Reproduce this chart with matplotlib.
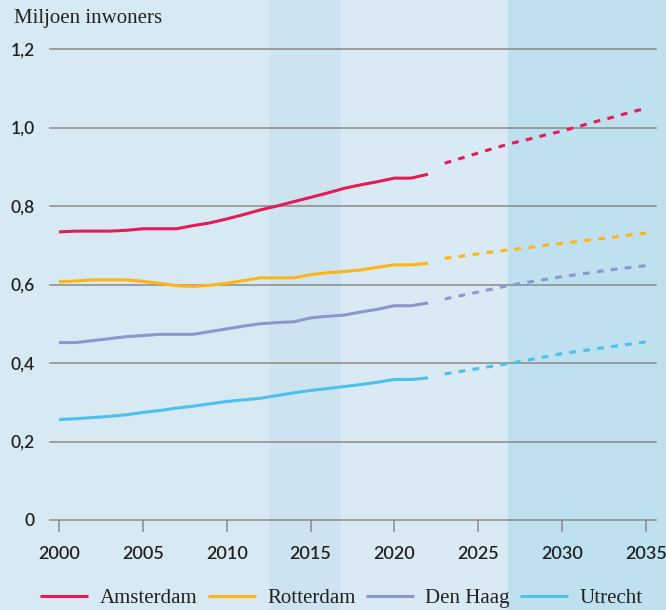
import matplotlib
matplotlib.use('Agg')
import matplotlib.pyplot as plt
from matplotlib.patches import Rectangle
from matplotlib.ticker import FuncFormatter

# Observed population (millions), 2000-2022
years = list(range(2000, 2023))
amsterdam = [0.734, 0.736, 0.736, 0.736, 0.738, 0.742, 0.742, 0.742, 0.750, 0.757,
             0.767, 0.778, 0.790, 0.800, 0.811, 0.822, 0.833, 0.845, 0.854, 0.862,
             0.871, 0.871, 0.881]
rotterdam = [0.607, 0.609, 0.612, 0.612, 0.612, 0.608, 0.603, 0.597, 0.595, 0.598,
             0.603, 0.610, 0.617, 0.617, 0.617, 0.625, 0.630, 0.633, 0.637, 0.644,
             0.650, 0.650, 0.654]
den_haag = [0.452, 0.452, 0.457, 0.462, 0.467, 0.470, 0.473, 0.473, 0.473, 0.480,
            0.487, 0.494, 0.500, 0.503, 0.505, 0.515, 0.519, 0.522, 0.530, 0.537,
            0.546, 0.546, 0.553]
utrecht = [0.256, 0.258, 0.261, 0.264, 0.268, 0.274, 0.279, 0.285, 0.290, 0.296,
           0.302, 0.306, 0.310, 0.317, 0.324, 0.330, 0.335, 0.340, 0.345, 0.351,
           0.358, 0.358, 0.362]

# Projection, 2023-2035
proj_years = list(range(2023, 2036))
amsterdam_proj = [0.909, 0.922, 0.935, 0.948, 0.960, 0.970, 0.981, 0.991, 1.003,
                  1.015, 1.026, 1.038, 1.049]
rotterdam_proj = [0.667, 0.672, 0.678, 0.684, 0.689, 0.694, 0.700, 0.705, 0.710,
                  0.715, 0.720, 0.726, 0.731]
den_haag_proj = [0.563, 0.572, 0.581, 0.590, 0.599, 0.606, 0.613, 0.620, 0.626,
                 0.632, 0.638, 0.643, 0.648]
utrecht_proj = [0.372, 0.379, 0.386, 0.393, 0.400, 0.408, 0.416, 0.424, 0.430,
                0.436, 0.442, 0.448, 0.454]

names = ['Amsterdam', 'Rotterdam', 'Den Haag', 'Utrecht']
colors = ['#e41b57', '#fdb515', '#8c97cf', '#4cc1ee']

yticks = [0, 0.2, 0.4, 0.6, 0.8, 1.0, 1.2]
xticks = [2000, 2005, 2010, 2015, 2020, 2025, 2030, 2035]

SERIF = 'Liberation Serif'
SANS = 'Lato'
TXT = '#222222'

fig = plt.figure(figsize=(6.66, 6.10), dpi=100)
fig.patch.set_facecolor('#d7e9f3')

# background bands (figure fractions)
bands = [(270 / 666, 71 / 666, '#cde4f0'),
         (341 / 666, 167 / 666, '#daeaf4'),
         (508 / 666, 158 / 666, '#bfe0ef')]
for x0, w, c in bands:
    fig.patches.append(Rectangle((x0, 0), w, 1, transform=fig.transFigure,
                                 color=c, zorder=-10))

ax = fig.add_axes([50 / 666, 90 / 610, 606 / 666, 471 / 610])
ax.set_facecolor('none')
ax.set_zorder(5)

obs = [amsterdam, rotterdam, den_haag, utrecht]
proj = [amsterdam_proj, rotterdam_proj, den_haag_proj, utrecht_proj]
for name, c, o, p in zip(names, colors, obs, proj):
    ax.plot(years, o, color=c, lw=2.2, label=name, solid_capstyle='butt', zorder=3)
    ax.plot(proj_years, p, color=c, lw=2.2, dashes=(2.2, 2.4), zorder=3)

ax.set_xlim(2000 - 9 / 16.77, 2035 + 10 / 16.77)
ax.set_ylim(0, 1.2)
ax.set_yticks(yticks)
ax.set_xticks(xticks)

def fmt(v, pos):
    if v == 0:
        return '0'
    return ('%.1f' % v).replace('.', ',')

ax.yaxis.set_major_formatter(FuncFormatter(fmt))
for y in yticks[1:]:
    ax.axhline(y, color='#8a8a8a', lw=1.1, zorder=1, clip_on=False)

for s in ['top', 'right', 'left']:
    ax.spines[s].set_visible(False)
ax.spines['bottom'].set_color('#8a8a8a')
ax.spines['bottom'].set_linewidth(1.1)

ax.tick_params(axis='y', length=0, pad=11, labelsize=12.5, labelcolor=TXT)
ax.tick_params(axis='x', length=8.6, width=1.1, color='#8a8a8a', pad=10,
               labelsize=13, labelcolor=TXT)
for lab in ax.get_xticklabels() + ax.get_yticklabels():
    lab.set_fontfamily(SANS)
    lab.set_fontweight('semibold')

fig.text(14 / 666, 1 - 18 / 610, 'Miljoen inwoners', fontsize=15,
         family=SERIF, color=TXT, va='center', ha='left')

handles, labels = ax.get_legend_handles_labels()
leg = fig.legend(handles, labels, loc='center', bbox_to_anchor=(0.513, 1 - 598 / 610),
                 ncol=4, frameon=False, handlelength=2.3, handletextpad=0.55,
                 columnspacing=0.5, prop={'family': SERIF, 'size': 15})
for t in leg.get_texts():
    t.set_color(TXT)

fig.savefig('out.png', dpi=100, facecolor=fig.get_facecolor())
